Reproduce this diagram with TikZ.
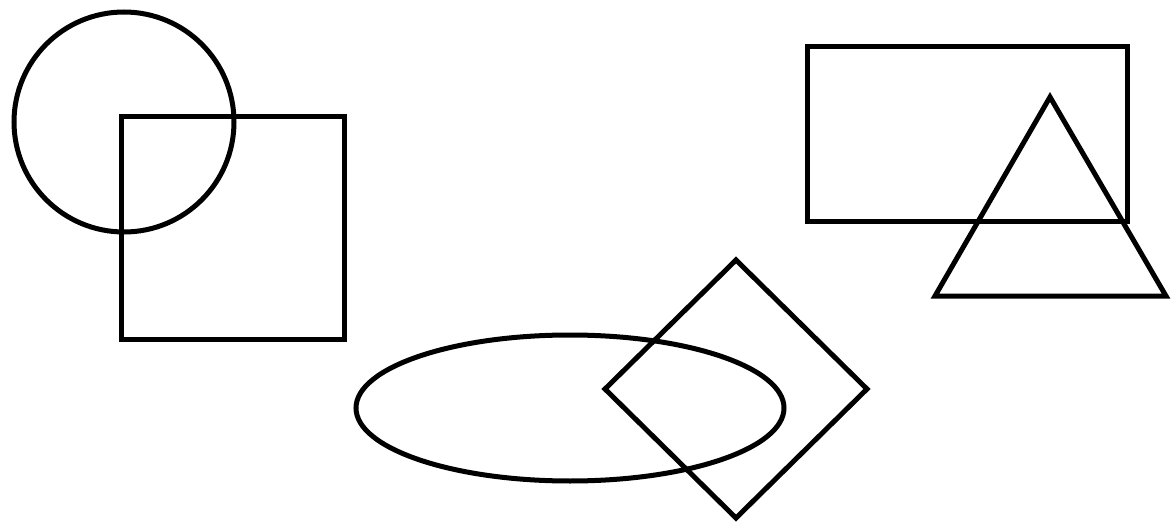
\documentclass[tikz,border=0pt]{standalone}
\usepackage{tikz}

\begin{document}
\begin{tikzpicture}[x=1pt,y=-1pt,
  fig/.style={draw=black,line width=5pt,line join=miter}]
\useasboundingbox (0,0) rectangle (1171,524);
% top left: circle over square
\draw[fig] (124,122) circle[radius=110];
\draw[fig] (121,117) rectangle (344,339);
% top right: rectangle and triangle
\draw[fig] (807,47) rectangle (1127,222);
\draw[fig] (1050,97) -- (1166,296) -- (935,296) -- cycle;
% bottom: ellipse and diamond
\draw[fig] (570,408) ellipse[x radius=214,y radius=73];
\draw[fig] (736,260) -- (867,389) -- (736,518) -- (605,389) -- cycle;
\end{tikzpicture}
\end{document}
